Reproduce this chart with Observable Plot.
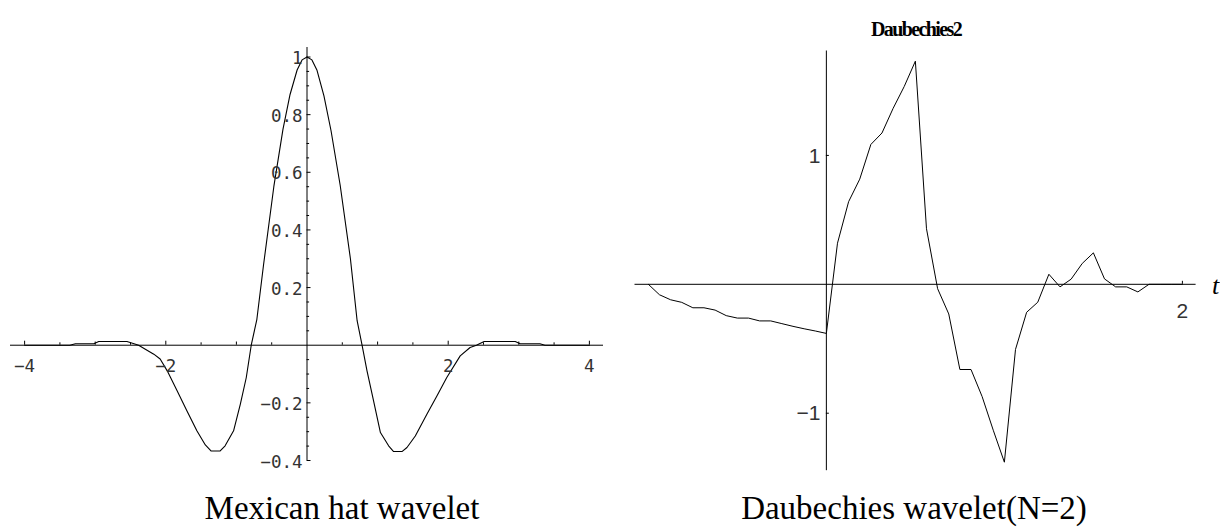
<!DOCTYPE html>
<html><head><meta charset="utf-8">
<script src="https://cdn.jsdelivr.net/npm/d3@7"></script>
<script src="https://cdn.jsdelivr.net/npm/@observablehq/plot@0.6"></script>
<style>
html,body{margin:0;padding:0;background:#fff;}
#wrap{position:relative;width:1220px;height:530px;overflow:hidden;background:#fff;}
.panel{position:absolute;top:0;}
.cap{position:absolute;font-family:"Liberation Serif",serif;font-size:33px;line-height:1;white-space:nowrap;transform:translateX(-50%);color:#000;}
.title{position:absolute;font-family:"Liberation Serif",serif;font-weight:bold;font-size:20px;letter-spacing:-1.6px;line-height:1;white-space:nowrap;transform:translateX(-50%);color:#000;}
</style></head>
<body>
<div id="wrap">
<div id="left" class="panel" style="left:0"></div>
<div id="right" class="panel" style="left:610px"></div>
<div class="title" style="left:916px;top:19px">Daubechies2</div>
<div class="cap" style="left:342px;top:492px">Mexican hat wavelet</div>
<div class="cap" style="left:914px;top:492px">Daubechies wavelet(N=2)</div>
</div>
<script>
// ---- Data: Mexican hat wavelet ----
const hatT = [-4.0, -3.36, -3.28, -3.02, -2.95, -2.55, -2.45, -2.385, -2.29, -2.17, -2.08, -1.98, -1.84, -1.70, -1.56, -1.44, -1.36, -1.23, -1.16, -1.04, -0.945, -0.86, -0.79, -0.71, -0.615, -0.47, -0.34, -0.24, -0.14, -0.07, 0, 0.07, 0.14, 0.24, 0.34, 0.47, 0.615, 0.71, 0.78, 0.85, 0.943, 1.04, 1.156, 1.227, 1.345, 1.416, 1.534, 1.70, 1.84, 1.98, 2.17, 2.31, 2.40, 2.45, 2.51, 2.95, 3.02, 3.30, 3.37, 4.0];
const hatV = [0, 0, 0.005, 0.005, 0.013, 0.013, 0.005, 0, -0.014, -0.031, -0.048, -0.089, -0.158, -0.228, -0.297, -0.346, -0.367, -0.367, -0.349, -0.297, -0.205, -0.112, 0, 0.09, 0.28, 0.55, 0.75, 0.87, 0.955, 0.99, 1.0, 0.99, 0.955, 0.865, 0.745, 0.555, 0.30, 0.085, 0, -0.089, -0.193, -0.303, -0.349, -0.369, -0.369, -0.355, -0.315, -0.239, -0.176, -0.112, -0.037, -0.008, 0, 0.006, 0.013, 0.013, 0.005, 0.005, 0, 0];

// ---- Data: Daubechies2 wavelet ----
const daubT = [-1, -0.9375, -0.875, -0.8125, -0.75, -0.6875, -0.625, -0.5625, -0.5, -0.4375, -0.375, -0.3125, -0.25, -0.1875, -0.125, -0.0625, 0, 0.0625, 0.125, 0.1875, 0.25, 0.3125, 0.375, 0.4375, 0.5, 0.5625, 0.625, 0.6875, 0.75, 0.8125, 0.875, 0.9375, 1, 1.0625, 1.125, 1.1875, 1.25, 1.3125, 1.375, 1.4375, 1.5, 1.5625, 1.625, 1.6875, 1.75, 1.8125, 1.875, 1.9375, 2];
const daubV = [0, -0.081, -0.12, -0.14, -0.182, -0.182, -0.2, -0.243, -0.262, -0.262, -0.284, -0.284, -0.305, -0.326, -0.345, -0.362, -0.381, 0.319, 0.641, 0.816, 1.085, 1.174, 1.365, 1.535, 1.731, 0.431, -0.034, -0.23, -0.661, -0.661, -0.871, -1.132, -1.38, -0.505, -0.217, -0.139, 0.078, -0.02, 0.04, 0.162, 0.244, 0.042, -0.02, -0.02, -0.059, 0, 0, 0, 0];

// ---- Tick labels ----
const hatXTickValues = [-4, -2, 2, 4];
const hatXTickLabels = ["\u22124", "\u22122", "2", "4"];
const hatYTickValues = [1, 0.8, 0.6, 0.4, 0.2, -0.2, -0.4];
const hatYTickLabels = ["1", "0.8", "0.6", "0.4", "0.2", "\u22120.2", "\u22120.4"];
const daubXTickValues = [2];
const daubXTickLabels = ["2"];
const daubYTickValues = [1, -1];
const daubYTickLabels = ["1", "\u22121"];
const daubAxisLabel = ["t"];

// ---- Left panel: Mexican hat ----
const L = {width: 610, height: 490, ml: 10, mr: 7, mt: 47, mb: 30, xd: [-4.2, 4.2], yd: [-0.4, 1.033]};
const Lkx = (L.width - L.ml - L.mr) / (L.xd[1] - L.xd[0]);
const Lky = (L.height - L.mt - L.mb) / (L.yd[1] - L.yd[0]);
const hatData = hatT.map((t, i) => ({t, v: hatV[i]}));
const hatXMinor = d3.range(-8, 9).map(i => i * 0.5).filter(d => d !== 0);
const hatYMinor = d3.range(-8, 21).map(i => Math.round(i * 5) / 100).filter(d => d !== 0);
const isMajY = d => Math.abs(Math.round(d * 5) - d * 5) < 1e-6;

const left = Plot.plot({
  width: L.width, height: L.height,
  marginLeft: L.ml, marginRight: L.mr, marginTop: L.mt, marginBottom: L.mb,
  x: {domain: L.xd, axis: null},
  y: {domain: L.yd, axis: null},
  style: {background: "transparent", overflow: "visible"},
  marks: [
    Plot.ruleY([0], {stroke: "#000", strokeWidth: 1}),
    Plot.ruleX([0], {stroke: "#000", strokeWidth: 1}),
    Plot.ruleX(hatXMinor, {x: d => d, y1: 0, y2: d => (Number.isInteger(d) ? (d % 2 === 0 ? 4 : 3.2) : 2.4) / Lky, stroke: "#000", strokeWidth: 1}),
    Plot.ruleY(hatYMinor, {y: d => d, x1: 0, x2: d => (isMajY(d) ? 4 : 2.6) / Lkx, stroke: "#000", strokeWidth: 1}),
    Plot.line(hatData, {x: "t", y: "v", stroke: "#000", strokeWidth: 1.1}),
    Plot.text(hatYTickValues, {x: 0, y: d => d, text: (d, i) => hatYTickLabels[i], textAnchor: "end", dx: -4.5, dy: 1.5, fontFamily: "DejaVu Sans Mono", fontSize: 17.5, fill: "#333"}),
    Plot.text(hatXTickValues, {x: d => d, y: 0, text: (d, i) => hatXTickLabels[i], textAnchor: "middle", dy: 21, fontFamily: "DejaVu Sans Mono", fontSize: 17.5, fill: "#333"})
  ]
});
document.getElementById("left").appendChild(left);

// ---- Right panel: Daubechies2 ----
const R = {width: 610, height: 490, ml: 24.5, mr: 24.4, mt: 50.5, mb: 19.8, xd: [-1.075, 2.077], yd: [-1.446, 1.81]};
const Rkx = (R.width - R.ml - R.mr) / (R.xd[1] - R.xd[0]);
const Rky = (R.height - R.mt - R.mb) / (R.yd[1] - R.yd[0]);
const daubData = daubT.map((t, i) => ({t, v: daubV[i]}));

const right = Plot.plot({
  width: R.width, height: R.height,
  marginLeft: R.ml, marginRight: R.mr, marginTop: R.mt, marginBottom: R.mb,
  x: {domain: R.xd, axis: null},
  y: {domain: R.yd, axis: null},
  style: {background: "transparent", overflow: "visible"},
  marks: [
    Plot.ruleY([0], {stroke: "#000", strokeWidth: 1}),
    Plot.ruleX([0], {stroke: "#000", strokeWidth: 1}),
    Plot.ruleX(daubXTickValues, {x: d => d, y1: 0, y2: 3 / Rky, stroke: "#000", strokeWidth: 1}),
    Plot.ruleY(daubYTickValues, {y: d => d, x1: 0, x2: 3 / Rkx, stroke: "#000", strokeWidth: 1}),
    Plot.line(daubData, {x: "t", y: "v", stroke: "#000", strokeWidth: 1}),
    Plot.text(daubYTickValues, {x: 0, y: d => d, text: (d, i) => daubYTickLabels[i], textAnchor: "end", dx: -6, dy: 0.5, fontFamily: "Liberation Sans", fontSize: 21, fill: "#333"}),
    Plot.text(daubXTickValues, {x: d => d, y: 0, text: (d, i) => daubXTickLabels[i], textAnchor: "middle", dy: 27, fontFamily: "Liberation Sans", fontSize: 21, fill: "#333"}),
    Plot.text(daubAxisLabel, {x: R.xd[1], y: 0, text: d => d, textAnchor: "start", dx: 16, dy: 1, fontFamily: "Liberation Serif", fontStyle: "italic", fontSize: 26, fill: "#000"})
  ]
});
document.getElementById("right").appendChild(right);
</script>
</body></html>
